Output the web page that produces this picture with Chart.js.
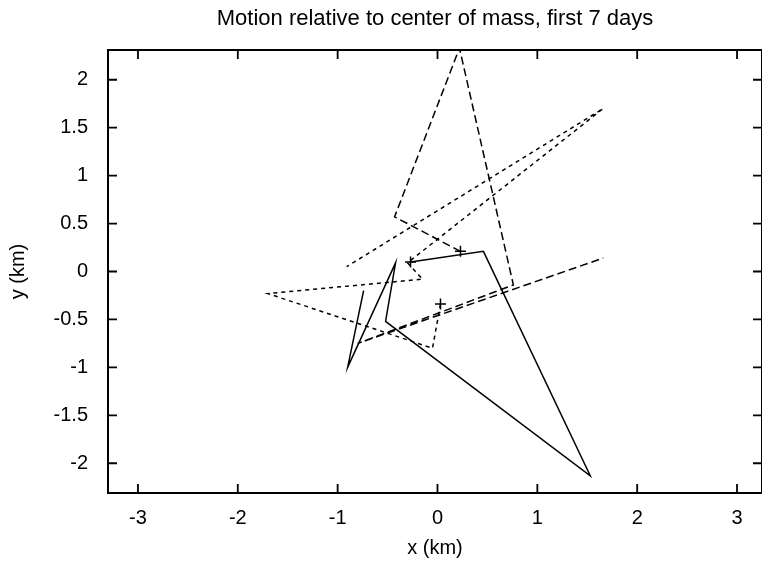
<!DOCTYPE html>
<html>
<head>
<meta charset="utf-8">
<script src="https://cdn.jsdelivr.net/npm/chart.js@4.4.0/dist/chart.umd.min.js"></script>
<style>
  html, body { margin: 0; padding: 0; background: #fff; }
</style>
</head>
<body>
<canvas id="myChart" width="762" height="563"></canvas>
<script>
// body 1 (solid)
const solidX = [-0.27, 0.46, 1.53, -0.52, -0.42, -0.90, -0.74];
const solidY = [0.10, 0.21, -2.13, -0.52, 0.09, -1.00, -0.20];
// body 2 (long dashes)
const longX = [0.23, -0.43, 0.22, 0.76, -0.80, 1.66];
const longY = [0.21, 0.57, 2.33, -0.14, -0.75, 0.14];
// body 3 (short dashes)
const shortX = [0.03, -0.05, -1.70, -0.15, -0.30, 1.66, -0.91];
const shortY = [-0.34, -0.80, -0.23, -0.08, 0.09, 1.70, 0.05];
// starting positions
const startX = [-0.27, 0.23, 0.03];
const startY = [0.10, 0.21, -0.34];

const xTicks = [-3, -2, -1, 0, 1, 2, 3];
const yTicks = [-2, -1.5, -1, -0.5, 0, 0.5, 1, 1.5, 2];

function pts(xs, ys) {
  return xs.map((v, i) => ({ x: v, y: ys[i] }));
}

// gnuplot style box with inward ticks on all sides
const frame = {
  id: "frame",
  afterDraw(chart) {
    const { ctx, chartArea: a, scales } = chart;
    const x = scales.x, y = scales.y;
    ctx.save();
    ctx.strokeStyle = "#000";
    ctx.lineWidth = 2;
    ctx.strokeRect(a.left, a.top, a.right - a.left, a.bottom - a.top);
    ctx.lineWidth = 1.8;
    ctx.beginPath();
    x.ticks.forEach(t => {
      const px = x.getPixelForValue(t.value);
      ctx.moveTo(px, a.bottom); ctx.lineTo(px, a.bottom - 9);
      ctx.moveTo(px, a.top); ctx.lineTo(px, a.top + 9);
    });
    y.ticks.forEach(t => {
      const py = y.getPixelForValue(t.value);
      ctx.moveTo(a.left, py); ctx.lineTo(a.left + 9, py);
      ctx.moveTo(a.right, py); ctx.lineTo(a.right - 9, py);
    });
    ctx.stroke();
    ctx.restore();
  }
};

const font = "'Liberation Sans', Arial, Helvetica, sans-serif";

new Chart(document.getElementById("myChart").getContext("2d"), {
  type: "scatter",
  data: {
    datasets: [
      {
        data: pts(solidX, solidY),
        showLine: true,
        borderColor: "#000",
        borderWidth: 1.5,
        pointRadius: 0,
      },
      {
        data: pts(longX, longY),
        showLine: true,
        borderColor: "#000",
        borderWidth: 1.5,
        borderDash: [8, 4],
        pointRadius: 0,
      },
      {
        data: pts(shortX, shortY),
        showLine: true,
        borderColor: "#000",
        borderWidth: 1.5,
        borderDash: [4, 4],
        pointRadius: 0,
      },
      {
        data: pts(startX, startY),
        showLine: false,
        pointStyle: "cross",
        pointRadius: 5.5,
        borderColor: "#000",
        borderWidth: 1.5,
      },
    ],
  },
  options: {
    responsive: false,
    animation: false,
    devicePixelRatio: 1,
    layout: { padding: 0, autoPadding: false },
    scales: {
      x: {
        type: "linear",
        min: -3.3,
        max: 3.25,
        afterBuildTicks: s => { s.ticks = xTicks.map(v => ({ value: v })); },
        afterFit: s => { s.height = 70; s.paddingLeft = 0; s.paddingRight = 0; },
        grid: { display: false, drawTicks: false },
        border: { display: false },
        ticks: {
          padding: 13,
          color: "#000",
          font: { family: font, size: 20 },
          callback: v => String(v),
        },
        title: {
          display: true,
          text: "x (km)",
          color: "#000",
          font: { family: font, size: 20 },
          padding: { top: 0, bottom: 3 },
        },
      },
      y: {
        type: "linear",
        min: -2.31,
        max: 2.31,
        afterBuildTicks: s => { s.ticks = yTicks.map(v => ({ value: v })); },
        afterFit: s => { s.width = 108; s.paddingTop = 0; s.paddingBottom = 0; },
        grid: { display: false, drawTicks: false },
        border: { display: false },
        ticks: {
          padding: 20,
          color: "#000",
          font: { family: font, size: 20 },
          callback: v => String(v),
        },
        title: {
          display: true,
          text: "y (km)",
          color: "#000",
          font: { family: font, size: 20 },
          padding: { top: 6, bottom: 0 },
        },
      },
    },
    plugins: {
      legend: { display: false },
      tooltip: { enabled: false },
      title: {
        display: true,
        fullSize: false,
        text: "Motion relative to center of mass, first 7 days",
        color: "#000",
        font: { family: font, size: 22, weight: "normal" },
        padding: { top: 6, bottom: 17.6 },
      },
    },
  },
  plugins: [frame],
});
</script>
</body>
</html>
